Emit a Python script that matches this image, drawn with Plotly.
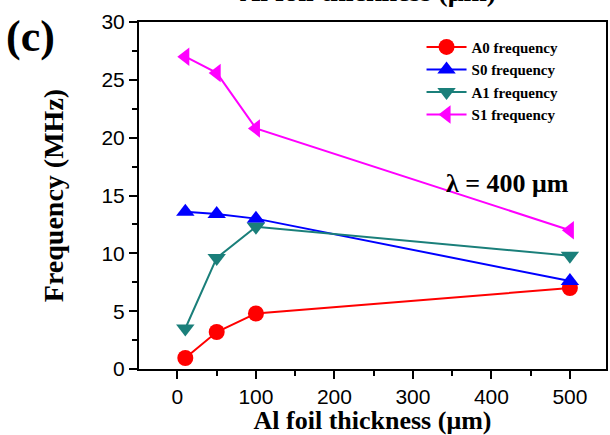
import plotly.graph_objects as go

thickness = [10, 50, 100, 500]
a0 = [0.95, 3.2, 4.8, 7.0]
s0 = [13.6, 13.4, 13.0, 7.6]
a1 = [3.5, 9.6, 12.3, 9.8]
s1 = [27.0, 25.6, 20.8, 12.0]
x_ticks = [0, 100, 200, 300, 400, 500]
y_ticks = [0, 5, 10, 15, 20, 25, 30]

series = [
    ("A0 frequency", a0, "#FF0000", "circle"),
    ("S0 frequency", s0, "#0000FF", "triangle-up"),
    ("A1 frequency", a1, "#1A7F7A", "triangle-down"),
    ("S1 frequency", s1, "#FF00FF", "triangle-left"),
]

serif = "Liberation Serif"
sans = "Liberation Sans"

fig = go.Figure()
for name, vals, col, sym in series:
    fig.add_trace(go.Scatter(
        x=thickness, y=vals, name=name, mode="lines+markers",
        line=dict(color=col, width=2),
        marker=dict(color=col, symbol=sym, size=16),
    ))

fig.update_layout(
    width=610, height=435,
    margin=dict(l=139, r=2, t=22, b=63),
    paper_bgcolor="white", plot_bgcolor="white",
    showlegend=True,
    legend=dict(
        x=0.605, y=0.975, xanchor="left", yanchor="top",
        bgcolor="rgba(0,0,0,0)",
        font=dict(family=serif, size=15, color="black", weight="bold"),
        tracegroupgap=0, itemwidth=40,
    ),
    xaxis=dict(
        range=[-49, 546], tickvals=x_ticks,
        ticks="outside", ticklen=8, tickwidth=2, tickcolor="black",
        minor=dict(tickvals=[50, 150, 250, 350, 450], ticks="outside", ticklen=5, tickwidth=2, tickcolor="black"),
        showline=True, linecolor="black", linewidth=2, mirror=True,
        showgrid=False, zeroline=False,
        tickfont=dict(family=sans, size=21, color="black"),
        title=dict(text="Al foil thickness (μm)", font=dict(family=serif, size=26, color="black", weight="bold"), standoff=7),
    ),
    yaxis=dict(
        range=[0, 30], tickvals=y_ticks,
        ticks="outside", ticklen=8, tickwidth=2, tickcolor="black",
        minor=dict(tickvals=[2.5, 7.5, 12.5, 17.5, 22.5, 27.5], ticks="outside", ticklen=5, tickwidth=2, tickcolor="black"),
        showline=True, linecolor="black", linewidth=2, mirror=True,
        showgrid=False, zeroline=False,
        tickfont=dict(family=sans, size=21, color="black"),
        title=dict(text="Frequency (MHz)", font=dict(family=serif, size=28, color="black", weight="bold"), standoff=30),
    ),
)

fig.add_annotation(
    text="λ = 400 μm", xref="paper", yref="paper", x=0.925, y=0.535,
    xanchor="right", yanchor="middle", showarrow=False,
    font=dict(family=serif, size=26, color="black", weight="bold"),
)
fig.add_annotation(
    text="(c)", xref="paper", yref="paper", x=-0.29, y=1.035,
    xanchor="left", yanchor="top", showarrow=False,
    font=dict(family=serif, size=44, color="black", weight="bold"),
)
fig.add_annotation(
    text="Al foil thickness (μm)", xref="paper", yref="paper", x=0.49, y=1.0, yshift=13,
    xanchor="center", yanchor="bottom", showarrow=False,
    font=dict(family=serif, size=28, color="black", weight="bold"),
)

fig.write_html("out.html")
